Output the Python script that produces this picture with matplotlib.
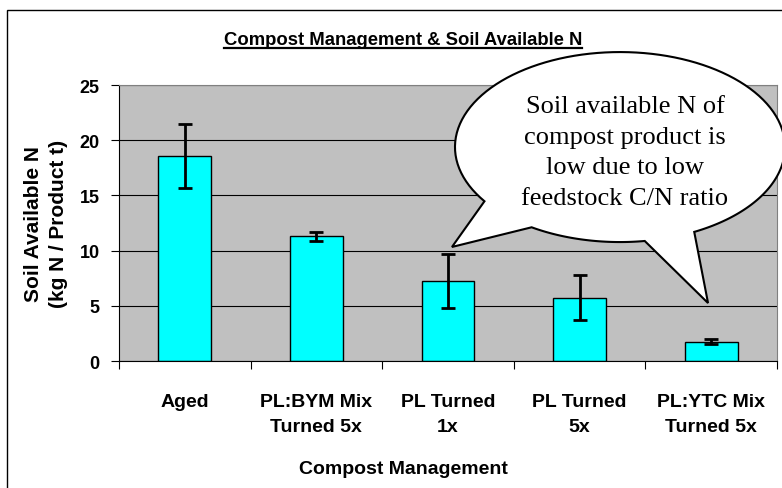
import numpy as np
import matplotlib
matplotlib.use('Agg')
import matplotlib.pyplot as plt
from matplotlib.patches import Polygon, Rectangle
from matplotlib.lines import Line2D

categories = ['Aged', 'PL:BYM Mix\nTurned 5x', 'PL Turned\n1x', 'PL Turned\n5x', 'PL:YTC Mix\nTurned 5x']
soil_n = [18.6, 11.3, 7.25, 5.75, 1.75]
soil_n_err = [2.9, 0.4, 2.45, 2.0, 0.2]
yticks = [0, 5, 10, 15, 20, 25]

bubble_text = 'Soil available N of\ncompost product is\nlow due to low\nfeedstock C/N ratio'

plt.rcParams['font.family'] = ['Liberation Sans', 'DejaVu Sans']

fig = plt.figure(figsize=(7.82, 4.89), dpi=100)
ax = fig.add_axes([0.1522, 0.2597, 0.8414, 0.5644])
ax.set_facecolor('#c0c0c0')

x = np.arange(len(categories))
ax.bar(x, soil_n, width=0.4, color='#00ffff', edgecolor='black', linewidth=1, zorder=2)
ax.errorbar(x, soil_n, yerr=soil_n_err, fmt='none', ecolor='black',
            elinewidth=2, capsize=5, capthick=2, zorder=3)

ax.set_xlim(-0.5, len(categories) - 0.5)
ax.set_ylim(0, 25)
ax.set_yticks(yticks)
ax.set_yticklabels([str(t) for t in yticks], fontsize=13, fontweight='bold')
ax.yaxis.grid(True, color='black', linewidth=0.8)
ax.set_axisbelow(True)

ax.set_xticks(np.arange(-0.5, len(categories), 1))
ax.set_xticklabels([])
ax.set_xticks(x, minor=True)
ax.set_xticklabels(categories, minor=True, fontsize=14, fontweight='bold',
                   linespacing=1.65)
ax.tick_params(axis='x', which='major', direction='out', length=6, color='black')
ax.tick_params(axis='x', which='minor', length=0, pad=23)
ax.tick_params(axis='y', direction='out', length=6, pad=8)

for s in ['top', 'right']:
    ax.spines[s].set_color('#808080')
for s in ['left', 'bottom']:
    ax.spines[s].set_color('black')

ax.set_xlabel('Compost Management', fontsize=14, fontweight='bold', va='center')
ax.xaxis.set_label_coords(0.433, -0.391)
ax.set_ylabel('Soil Available N\n(kg N / Product t)', fontsize=15, fontweight='bold',
              va='center', linespacing=1.35)
ax.yaxis.set_label_coords(-0.111, 0.5)

# speech bubble (ellipse with two tails)
cx, cy, rx, ry = 3.307, 19.38, 1.254, 8.605
tails = [((2.281, 14.49), (2.030, 10.33), (2.638, 12.14)),
         ((3.497, 10.78), (3.976, 5.25), (3.892, 11.41))]

def ang(p):
    return np.degrees(np.arctan2((p[1] - cy) / ry, (p[0] - cx) / rx)) % 360

def arc(a0, a1):
    t = np.radians(np.linspace(a0, a1, 80))
    return list(zip(cx + rx * np.cos(t), cy + ry * np.sin(t)))

pts = []
start = 0
for a, tip, b in tails:
    pts += arc(start, ang(a))
    pts.append(tip)
    start = ang(b)
pts += arc(start, 360)
ax.add_patch(Polygon(pts, closed=True, facecolor='white', edgecolor='black',
                     linewidth=1.5, clip_on=False, zorder=10))
ax.text(3.345, 18.95, bubble_text, family=['Liberation Serif', 'DejaVu Serif'],
        fontsize=19, ha='center', va='center', linespacing=1.5, zorder=11)

# title with underline
title = fig.text(0.515, 0.918, 'Compost Management & Soil Available N',
                 fontsize=13.3, fontweight='bold', ha='center', va='center')
fig.canvas.draw()
bb = title.get_window_extent()
fig.add_artist(Line2D([bb.x0 / 782, bb.x1 / 782], [(489 - 49) / 489] * 2,
                      transform=fig.transFigure, color='black', linewidth=1.6))

# outer chart border
fig.add_artist(Rectangle((7 / 782, -0.1), 1.2, (489 - 11) / 489 + 0.1,
                         transform=fig.transFigure, fill=False,
                         edgecolor='black', linewidth=1))

fig.savefig('out.png', dpi=100)
